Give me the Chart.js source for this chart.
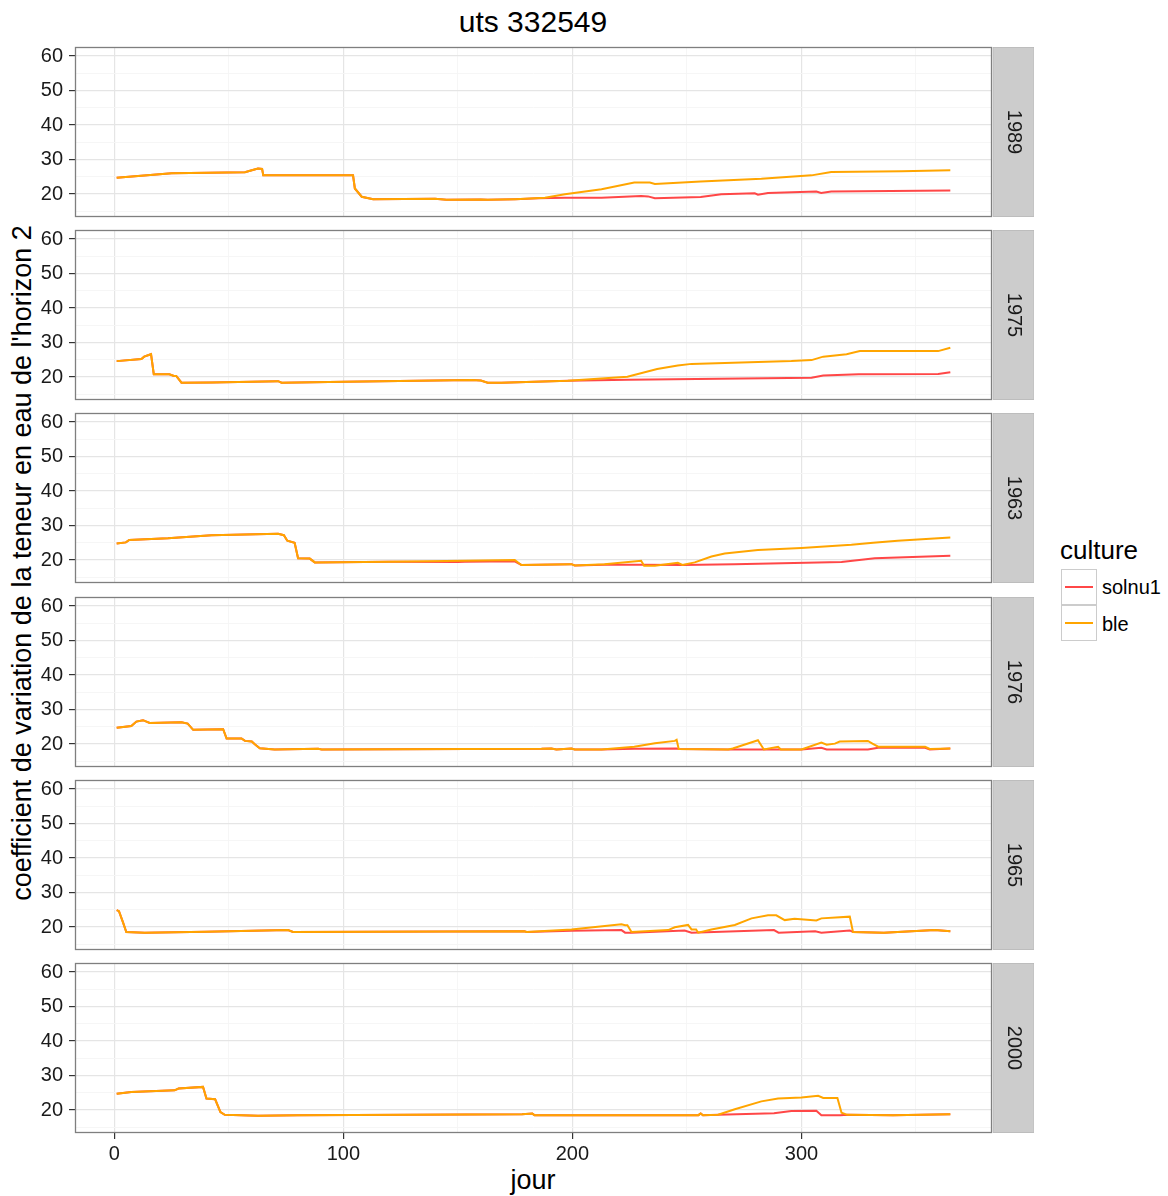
<!DOCTYPE html>
<html>
<head>
<meta charset="utf-8">
<script src="https://cdn.jsdelivr.net/npm/chart.js@4.4.1/dist/chart.umd.min.js"></script>
<style>
  body { margin: 0; background: #fff; font-family: "Liberation Sans", Arial, sans-serif; }
  #page { position: relative; width: 1168px; height: 1196px; overflow: hidden; background: #fff; }
  #page canvas { position: absolute; left: 0; }
  .lbl { position: absolute; white-space: nowrap; color: #000; transform: translate(-50%, -50%); line-height: 1; }
  .key { position: absolute; left: 1061px; width: 36px; height: 36px; border: 1px solid #cccccc; background: #fff; box-sizing: border-box; }
  .key span { position: absolute; left: 3px; right: 3px; top: 16px; height: 2px; }
  .leg { position: absolute; left: 1102px; font-size: 20px; transform: translateY(-50%); line-height: 1; }
</style>
</head>
<body>
<div id="page">
  <div class="lbl" style="left:533px;top:22px;font-size:30px;">uts 332549</div>
  <div class="lbl" style="left:22px;top:563px;font-size:27px;transform:translate(-50%,-50%) rotate(-90deg);">coefficient de variation de la teneur en eau de l'horizon 2</div>
  <div class="lbl" style="left:533px;top:1180px;font-size:27px;">jour</div>
  <div class="lbl" style="left:1060px;top:550px;font-size:26px;transform:translateY(-50%);">culture</div>
  <div class="key" style="top:569px;"><span style="background:#ff4747"></span></div>
  <div class="key" style="top:605px;"><span style="background:#ffa500"></span></div>
  <div class="leg" style="top:587px;">solnu1</div>
  <div class="leg" style="top:624px;">ble</div>
</div>
<script>
// facet order, top to bottom
const years = ['1989', '1975', '1963', '1976', '1965', '2000'];

// [jour, valeur]
const solnu1_1989 = [[1, 24.7], [25, 26.0], [57, 26.3], [60, 26.9], [62.7, 27.4], [64.5, 27.3], [65, 25.4], [104.2, 25.4], [105, 21.6], [108, 19.2], [113, 18.5], [140, 18.6], [145, 18.3], [160, 18.4], [163, 18.3], [175, 18.5], [185, 18.8], [196.7, 18.9], [212.7, 18.9], [230, 19.4], [233, 19.3], [236, 18.75], [256, 19.1], [265, 19.9], [279.6, 20.2], [281, 19.8], [285.4, 20.3], [306.5, 20.7], [308.6, 20.3], [313, 20.7], [365, 21.0]];
const ble_1989 = [[1, 24.7], [25, 26.0], [57, 26.3], [60, 26.9], [62.7, 27.4], [64.5, 27.3], [65, 25.4], [104.2, 25.4], [105, 21.6], [108, 19.2], [113, 18.5], [140, 18.6], [145, 18.3], [160, 18.4], [163, 18.3], [175, 18.5], [188, 18.9], [196.7, 19.9], [212.7, 21.4], [227, 23.3], [233.8, 23.3], [236, 22.9], [256, 23.6], [282.5, 24.4], [304.4, 25.4], [313, 26.4], [343.7, 26.6], [365, 26.9]];

const solnu1_1975 = [[1, 24.6], [11.8, 25.2], [13, 25.9], [16, 26.6], [17.2, 20.8], [24, 20.8], [26, 20.3], [27, 20.3], [29.3, 18.35], [42.5, 18.4], [71.5, 18.8], [73, 18.35], [100.6, 18.6], [156, 19.1], [160, 19.0], [163, 18.35], [169, 18.35], [198, 18.9], [224, 19.2], [304.4, 19.8], [309.5, 20.4], [325, 20.8], [359.7, 20.9], [365, 21.4]];
const ble_1975 = [[1, 24.6], [11.8, 25.2], [13, 25.9], [16, 26.6], [17.2, 20.8], [24, 20.8], [26, 20.3], [27, 20.3], [29.3, 18.35], [42.5, 18.4], [71.5, 18.8], [73, 18.35], [100.6, 18.6], [156, 19.1], [160, 19.0], [163, 18.35], [169, 18.35], [198, 18.9], [224, 20.1], [237, 22.3], [246, 23.3], [252, 23.8], [295.6, 24.6], [304.4, 24.9], [309.5, 25.9], [319.7, 26.6], [325.5, 27.5], [359.7, 27.5], [365, 28.5]];

const solnu1_1963 = [[1, 24.8], [5, 25.1], [6.5, 25.8], [23.4, 26.3], [42.4, 27.2], [71.5, 27.6], [74, 27.2], [75.5, 25.6], [78.7, 25.0], [80.2, 20.5], [85.3, 20.4], [87.5, 19.3], [120, 19.5], [150, 19.4], [153, 19.5], [174.8, 19.6], [177.7, 18.55], [199.6, 18.8], [201, 18.4], [214, 18.6], [230, 18.6], [248, 18.55], [270.7, 18.8], [317.5, 19.4], [332, 20.5], [365, 21.25]];
const ble_1963 = [[1, 24.8], [5, 25.1], [6.5, 25.8], [23.4, 26.3], [42.4, 27.2], [71.5, 27.6], [74, 27.2], [75.5, 25.6], [78.7, 25.0], [80.2, 20.5], [85.3, 20.4], [87.5, 19.3], [120, 19.5], [153, 19.8], [174.8, 20.0], [177.7, 18.55], [199.6, 18.8], [201, 18.4], [214, 18.8], [230, 19.8], [231.3, 18.35], [236, 18.35], [246, 19.2], [248, 18.55], [253.4, 19.3], [260.7, 21.0], [266.5, 21.9], [281, 22.9], [300, 23.5], [321.8, 24.4], [331.3, 25.0], [342, 25.6], [365, 26.5]];

const solnu1_1976 = [[1, 24.7], [7.4, 25.2], [9.6, 26.5], [12.5, 26.9], [15.4, 26.1], [29.3, 26.3], [32, 25.9], [34.4, 24.1], [47.5, 24.3], [49, 21.6], [55.5, 21.6], [57, 20.9], [60, 20.7], [61.3, 19.9], [63.5, 18.75], [70, 18.4], [89, 18.6], [90.5, 18.4], [186.5, 18.6], [190.8, 18.7], [193, 18.4], [199.6, 18.7], [201, 18.4], [212.7, 18.4], [227, 18.6], [245.5, 18.7], [246.4, 18.55], [268, 18.4], [300, 18.4], [308.7, 18.9], [311, 18.4], [329, 18.4], [333.5, 18.9], [354, 18.9], [356, 18.4], [365, 18.7]];
const ble_1976 = [[1, 24.7], [7.4, 25.2], [9.6, 26.5], [12.5, 26.9], [15.4, 26.1], [29.3, 26.3], [32, 25.9], [34.4, 24.1], [47.5, 24.3], [49, 21.6], [55.5, 21.6], [57, 20.9], [60, 20.7], [61.3, 19.9], [63.5, 18.75], [70, 18.4], [89, 18.6], [90.5, 18.4], [186.5, 18.6], [190.8, 18.7], [193, 18.4], [199.6, 18.7], [201, 18.4], [212.7, 18.4], [227, 19.2], [236, 20.2], [244.7, 20.9], [245.5, 21.2], [246.4, 18.55], [268, 18.4], [270, 18.7], [281, 21.1], [283.6, 18.4], [289.8, 19.2], [291, 18.4], [300, 18.4], [308.7, 20.4], [311, 19.8], [314.6, 20.1], [316.7, 20.7], [329, 20.9], [331, 20.1], [333.5, 19.2], [354, 19.2], [356, 18.55], [365, 18.7]];

const solnu1_1965 = [[1, 24.9], [2, 24.6], [3.8, 21.25], [5.2, 18.55], [13.2, 18.35], [40, 18.6], [75.8, 19.1], [78, 18.55], [179, 18.75], [180, 18.55], [199.6, 18.9], [221.4, 19.1], [223, 18.35], [225.8, 18.35], [249, 19.0], [252, 18.35], [288, 19.1], [290, 18.35], [306, 18.75], [308.7, 18.35], [321.1, 19.0], [322.5, 18.55], [336, 18.35], [358.2, 19.1], [365, 18.75]];
const ble_1965 = [[1, 24.9], [2, 24.6], [3.8, 21.25], [5.2, 18.55], [13.2, 18.35], [40, 18.6], [75.8, 19.1], [78, 18.55], [179, 18.75], [180, 18.55], [199.6, 19.3], [221.4, 20.8], [223, 20.5], [224, 20.5], [225.8, 18.55], [241.8, 19.1], [244.7, 19.9], [250.5, 20.6], [252, 19.3], [254, 19.3], [254.9, 18.35], [260.7, 19.3], [270.9, 20.6], [278.2, 22.5], [285.4, 23.4], [289, 23.4], [292.7, 22.0], [297, 22.4], [306.5, 21.9], [308.7, 22.5], [321.1, 23.0], [322.5, 18.55], [336, 18.35], [358.2, 19.1], [365, 18.75]];

const solnu1_2000 = [[1, 24.7], [7.4, 25.2], [26.3, 25.7], [28, 26.2], [38.7, 26.7], [40.2, 23.3], [44, 23.1], [46.3, 19.4], [48.2, 18.6], [62.7, 18.3], [80, 18.45], [178, 18.8], [182.5, 18.95], [183.5, 18.45], [255, 18.5], [256, 19.0], [257, 18.45], [263.6, 18.6], [288, 19.05], [295.6, 19.7], [306.5, 19.8], [308.7, 18.45], [317, 18.45], [320, 18.6], [340, 18.45], [365, 18.75]];
const ble_2000 = [[1, 24.7], [7.4, 25.2], [26.3, 25.7], [28, 26.2], [38.7, 26.7], [40.2, 23.3], [44, 23.1], [46.3, 19.4], [48.2, 18.6], [62.7, 18.3], [80, 18.45], [178, 18.8], [182.5, 18.95], [183.5, 18.45], [255, 18.5], [256, 19.0], [257, 18.45], [263.6, 18.6], [270.9, 20.2], [282.5, 22.5], [289.8, 23.3], [300, 23.6], [307.3, 24.1], [309.5, 23.5], [315.7, 23.5], [317.5, 19.2], [320, 18.6], [340, 18.45], [365, 18.75]];

const solnu1Series = [solnu1_1989, solnu1_1975, solnu1_1963, solnu1_1976, solnu1_1965, solnu1_2000];
const bleSeries = [ble_1989, ble_1975, ble_1963, ble_1976, ble_1965, ble_2000];

const yTicks = [15, 20, 25, 30, 35, 40, 45, 50, 55, 60];
const xTicks = [0, 50, 100, 150, 200, 250, 300, 350];

const colors = { solnu1: '#ff4747', ble: '#ffa500' };
const FONT = '"Liberation Sans", Arial, sans-serif';

const toPoints = (rows) => rows.map(([x, y]) => ({ x, y }));
const isMajor = (ctx, step) => ctx.tick && ctx.tick.value % step === 0;

// keep chart area where the layout padding puts it
const dropLabelPadding = (scale) => {
  scale.paddingTop = 0;
  scale.paddingBottom = 0;
  scale.paddingLeft = 0;
  scale.paddingRight = 0;
};

const panelFrame = {
  id: 'panelFrame',
  afterDraw(chart, args, opts) {
    const { ctx, chartArea: a } = chart;
    ctx.save();
    ctx.strokeStyle = '#7f7f7f';
    ctx.lineWidth = 1.3;
    ctx.strokeRect(a.left + 0.5, a.top + 0.5, a.right - a.left - 1, a.bottom - a.top - 1);

    // facet strip on the right
    ctx.fillStyle = '#cccccc';
    ctx.fillRect(a.right + 1, a.top, 41, a.bottom - a.top);
    ctx.strokeStyle = '#b3b3b3';
    ctx.lineWidth = 0.6;
    ctx.strokeRect(a.right + 1, a.top + 0.5, 41, a.bottom - a.top - 1);

    ctx.translate(a.right + 21.5, (a.top + a.bottom) / 2);
    ctx.rotate(Math.PI / 2);
    ctx.fillStyle = '#1a1a1a';
    ctx.font = `20px ${FONT}`;
    ctx.textAlign = 'center';
    ctx.textBaseline = 'middle';
    ctx.fillText(opts.label, 0, 0);
    ctx.restore();
  },
};

const page = document.getElementById('page');

years.forEach((year, i) => {
  const last = i === years.length - 1;
  const top = Math.round(47 + i * 183.2);
  const padTop = 14;
  const height = last ? padTop + 170 + 38 : padTop + 170 + 14;

  const canvas = document.createElement('canvas');
  canvas.width = 1034;
  canvas.height = height;
  canvas.style.top = `${top - padTop}px`;
  page.appendChild(canvas);

  new Chart(canvas.getContext('2d'), {
    type: 'line',
    data: {
      datasets: [
        { label: 'solnu1', data: toPoints(solnu1Series[i]), borderColor: colors.solnu1, borderWidth: 2, order: 1 },
        { label: 'ble', data: toPoints(bleSeries[i]), borderColor: colors.ble, borderWidth: 2, order: 0 },
      ],
    },
    options: {
      responsive: false,
      animation: false,
      devicePixelRatio: 1,
      elements: { point: { radius: 0 }, line: { tension: 0, fill: false } },
      layout: { padding: { top: padTop, left: 0, right: 42, bottom: last ? 6 : 14 } },
      plugins: { legend: { display: false }, tooltip: { enabled: false }, panelFrame: { label: year } },
      scales: {
        x: {
          type: 'linear',
          min: -17.2,
          max: 383.2,
          afterBuildTicks: (scale) => { scale.ticks = xTicks.map((value) => ({ value })); },
          afterFit: (scale) => { scale.height = last ? 32 : 0; dropLabelPadding(scale); },
          border: { display: false },
          grid: {
            color: (ctx) => (isMajor(ctx, 100) ? '#e5e5e5' : '#f5f5f5'),
            lineWidth: (ctx) => (isMajor(ctx, 100) ? 1.2 : 0.9),
            drawTicks: last,
            tickLength: 6,
            tickColor: (ctx) => (isMajor(ctx, 100) ? '#333333' : 'rgba(0,0,0,0)'),
          },
          ticks: {
            display: last,
            maxRotation: 0,
            autoSkip: false,
            padding: 3,
            color: '#1a1a1a',
            font: { family: FONT, size: 20 },
            callback: (v) => (v % 100 === 0 ? String(v) : ''),
          },
        },
        y: {
          type: 'linear',
          min: 13.33,
          max: 62.61,
          afterBuildTicks: (scale) => { scale.ticks = yTicks.map((value) => ({ value })); },
          afterFit: (scale) => { scale.width = 75; dropLabelPadding(scale); },
          border: { display: false },
          grid: {
            color: (ctx) => (isMajor(ctx, 10) ? '#e5e5e5' : '#f5f5f5'),
            lineWidth: (ctx) => (isMajor(ctx, 10) ? 1.2 : 0.9),
            tickLength: 6,
            tickColor: (ctx) => (isMajor(ctx, 10) ? '#333333' : 'rgba(0,0,0,0)'),
          },
          ticks: {
            autoSkip: false,
            padding: 6,
            color: '#1a1a1a',
            font: { family: FONT, size: 20 },
            callback: (v) => (v % 10 === 0 ? String(v) : ''),
          },
        },
      },
    },
    plugins: [panelFrame],
  });
});
</script>
</body>
</html>
